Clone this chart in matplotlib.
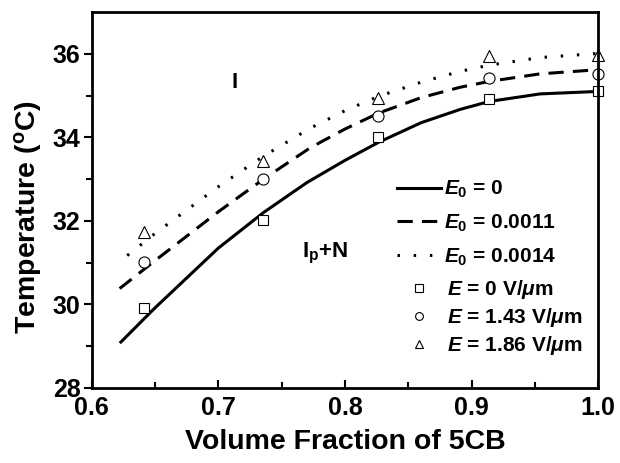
import matplotlib
matplotlib.use('Agg')
import matplotlib.pyplot as plt

plt.rcParams['font.family'] = 'Liberation Sans'
plt.rcParams['font.weight'] = 'bold'
plt.rcParams['mathtext.fontset'] = 'custom'
plt.rcParams['mathtext.rm'] = 'Liberation Sans:bold'
plt.rcParams['mathtext.it'] = 'Liberation Sans:bold:italic'
plt.rcParams['mathtext.bf'] = 'Liberation Sans:bold'

# measured transition temperatures
x_pts = [0.641, 0.7356, 0.8264, 0.914, 1.0]
T_E0 = [29.92, 32.01, 34.0, 34.92, 35.11]
T_E143 = [31.02, 33.0, 34.51, 35.42, 35.52]
T_E186 = [31.73, 33.43, 34.94, 35.94, 35.96]

# model curves
x_fit0 = [0.623, 0.65, 0.7, 0.7356, 0.77, 0.8, 0.8264, 0.86, 0.891, 0.914, 0.954, 1.0]
T_fit0 = [29.1, 29.92, 31.35, 32.2, 32.92, 33.45, 33.88, 34.35, 34.67, 34.86, 35.04, 35.1]
x_fit1 = [0.622, 0.65, 0.7, 0.7356, 0.7725, 0.8, 0.8264, 0.86, 0.891, 0.914, 0.954, 1.0]
T_fit1 = [30.38, 31.05, 32.22, 33.0, 33.75, 34.2, 34.58, 34.95, 35.2, 35.34, 35.52, 35.62]
x_fit2 = [0.628, 0.65, 0.7, 0.7356, 0.7725, 0.8, 0.8264, 0.86, 0.891, 0.914, 0.954, 1.0]
T_fit2 = [31.17, 31.7, 32.82, 33.55, 34.22, 34.64, 34.98, 35.32, 35.58, 35.73, 35.91, 36.01]

fig = plt.figure(figsize=(6.2, 4.63), dpi=100)
ax = fig.add_axes([0.148, 0.162, 0.817, 0.812])

l0, = ax.plot(x_fit0, T_fit0, color='black', lw=2.2, label='$E_0$ = 0')
l1, = ax.plot(x_fit1, T_fit1, color='black', lw=2.2, dashes=(5, 3), label='$E_0$ = 0.0011')
l2, = ax.plot(x_fit2, T_fit2, color='black', lw=2.2, dashes=(0.8, 4.5), label='$E_0$ = 0.0014')

m0, = ax.plot(x_pts, T_E0, ls='none', marker='s', ms=7.5, mfc='white', mec='black', mew=0.8,
              clip_on=False, label=r'$E$ = 0 V/$\mu$m')
m1, = ax.plot(x_pts, T_E143, ls='none', marker='o', ms=8, mfc='white', mec='black', mew=0.8,
              clip_on=False, label=r'$E$ = 1.43 V/$\mu$m')
m2, = ax.plot(x_pts, T_E186, ls='none', marker='^', ms=9, mfc='white', mec='black', mew=0.8,
              clip_on=False, label=r'$E$ = 1.86 V/$\mu$m')

ax.text(0.713, 35.32, 'I', fontsize=16, fontweight='bold', ha='center', va='center')
ax.text(0.766, 31.22, r'I$_{\rm p}$+N', fontsize=16, fontweight='bold', ha='left', va='center')

ax.set_xlim(0.6, 1.0)
ax.set_ylim(28, 37)
ax.set_xticks([0.6, 0.7, 0.8, 0.9, 1.0])
ax.set_xticks([0.65, 0.75, 0.85, 0.95], minor=True)
ax.set_yticks([28, 30, 32, 34, 36])
ax.set_yticks([29, 31, 33, 35], minor=True)
ax.tick_params(axis='x', which='both', direction='in', labelsize=18, width=1.5, pad=6)
ax.tick_params(axis='x', which='major', length=6)
ax.tick_params(axis='x', which='minor', length=4)
ax.tick_params(axis='y', which='both', direction='out', labelsize=18, width=1.5, pad=2)
ax.tick_params(axis='y', which='major', length=6)
ax.tick_params(axis='y', which='minor', length=4)
for s in ax.spines.values():
    s.set_linewidth(2)

ax.set_xlabel('Volume Fraction of 5CB', fontsize=20.5, fontweight='bold', labelpad=6)
ax.set_ylabel('Temperature ($^{\\rm o}$C)', fontsize=20.5, fontweight='bold')
ax.yaxis.set_label_coords(-0.095, 0.455)

leg1 = ax.legend(handles=[l0, l1, l2], loc='upper left', bbox_to_anchor=(0.603, 0.556),
                 frameon=False, fontsize=15, handlelength=2.1, handletextpad=0.15,
                 labelspacing=0.6, borderpad=0, borderaxespad=0)
ax.add_artist(leg1)
ax.legend(handles=[m0, m1, m2], loc='upper left', bbox_to_anchor=(0.603, 0.293),
          frameon=False, fontsize=15, handlelength=2.1, handletextpad=0.3,
          labelspacing=0.25, markerscale=0.7, borderpad=0, borderaxespad=0)

fig.savefig('out.png', dpi=100)
